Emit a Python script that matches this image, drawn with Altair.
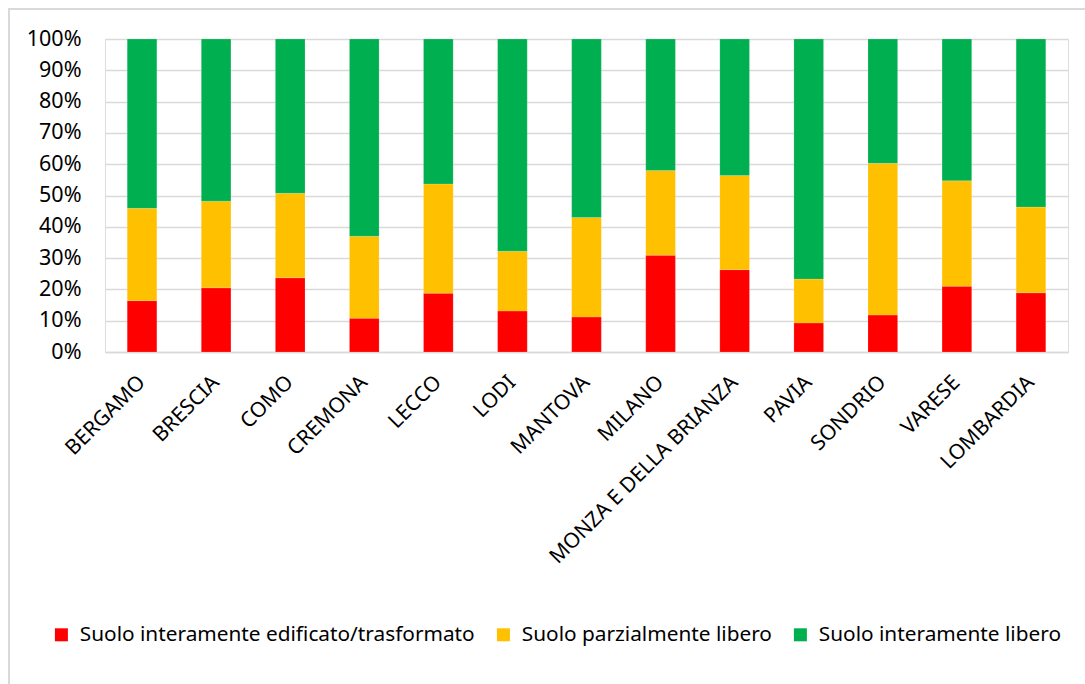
import altair as alt
import pandas as pd

provinces = ["BERGAMO", "BRESCIA", "COMO", "CREMONA", "LECCO", "LODI", "MANTOVA",
             "MILANO", "MONZA E DELLA BRIANZA", "PAVIA", "SONDRIO", "VARESE", "LOMBARDIA"]
series = ["Suolo interamente edificato/trasformato", "Suolo parzialmente libero",
          "Suolo interamente libero"]
edificato = [16.4, 20.5, 23.7, 10.8, 18.8, 13.1, 11.2, 30.9, 26.3, 9.3, 11.8, 21.0, 18.9]
parz_libero = [29.5, 27.7, 27.0, 26.2, 34.9, 19.1, 31.8, 27.1, 30.1, 14.0, 48.5, 33.7, 27.4]
int_libero = [54.1, 51.8, 49.3, 63.0, 46.3, 67.8, 57.0, 42.0, 43.6, 76.7, 39.7, 45.3, 53.7]
colors = ["#FF0000", "#FFC000", "#00B050"]
y_ticks = [0, 10, 20, 30, 40, 50, 60, 70, 80, 90, 100]

rows = []
for i, p in enumerate(provinces):
    for k, vals in enumerate([edificato, parz_libero, int_libero]):
        rows.append({"prov": p, "serie": series[k], "ord": k, "val": vals[i]})
df = pd.DataFrame(rows)

FONT = "Noto Sans"

bars = alt.Chart(df).mark_bar(stroke="white", strokeWidth=0.3, strokeOpacity=0.5).encode(
    x=alt.X("prov:N", sort=provinces, title=None,
            scale=alt.Scale(paddingInner=0.6, paddingOuter=0.3),
            axis=alt.Axis(labelAngle=-45, labelAlign="right", labelBaseline="middle",
                          labelPadding=27, ticks=False, domain=True, domainColor="#D9D9D9",
                          domainWidth=1.5, labelFontSize=21, labelFont=FONT,
                          labelColor="#000000", grid=False, labelLimit=400)),
    y=alt.Y("val:Q", stack="zero", title=None,
            scale=alt.Scale(domain=[0, 100], nice=False),
            axis=alt.Axis(values=y_ticks, labelExpr="datum.value + '%'", ticks=False,
                          domain=False, labelPadding=24, labelFontSize=21.5, labelFont=FONT,
                          labelColor="#000000", gridColor="#D9D9D9", gridWidth=1.5)),
    color=alt.Color("serie:N", sort=series,
                    scale=alt.Scale(domain=series, range=colors),
                    legend=alt.Legend(title=None, orient="none", direction="horizontal",
                                      legendX=-54, legendY=585, symbolType="square",
                                      symbolSize=169, symbolStrokeWidth=0,
                                      labelFontSize=20.8, labelFont=FONT,
                                      labelColor="#000000", labelOffset=8,
                                      columnPadding=18, labelLimit=600)),
    order=alt.Order("ord:Q", sort="ascending"),
)

border_df = pd.DataFrame({"b": [0]})
border = alt.Chart(border_df).mark_rect(fill="transparent", stroke="#D9D9D9", strokeWidth=2).encode(
    x=alt.value(-96), x2=alt.value(1000), y=alt.value(-30), y2=alt.value(680)
)

chart = alt.layer(border, bars).properties(
    width=963, height=313,
    autosize=alt.AutoSizeParams(type="none"),
    padding={"left": 105, "top": 39, "right": 17, "bottom": 332},
).configure_view(stroke=None).configure(background="white")

chart.save("out.html", embed_options={"renderer": "svg", "actions": False})
